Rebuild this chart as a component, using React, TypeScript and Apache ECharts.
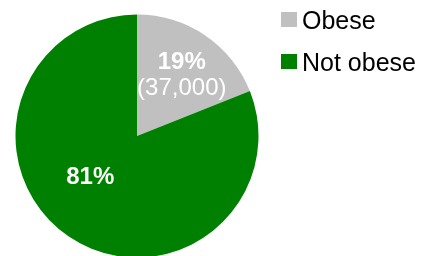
import React, { useEffect, useRef } from "react";
import * as echarts from "echarts";

const categories = ["Obese", "Not obese"];
const values = [37000, 158000];
const colors = ["#C0C0C0", "#008000"];
const labelOffsets = [
  [9, -10],
  [-11, -13],
];

export default function App() {
  const ref = useRef<HTMLDivElement>(null);
  useEffect(() => {
    if (!ref.current) return;
    const chart = echarts.init(ref.current, null, { renderer: "svg" });
    chart.setOption({
      animation: false,
      textStyle: { fontFamily: "Liberation Sans, Arial, sans-serif" },
      legend: {
        orient: "vertical",
        left: 276,
        top: 2,
        itemWidth: 16,
        itemHeight: 15,
        itemGap: 17,
        icon: "rect",
        textStyle: {
          fontSize: 25,
          color: "#000",
          fontFamily: "Liberation Sans, Arial, sans-serif",
          padding: [0, 0, 6, 0],
        },
        data: categories,
      },
      series: [
        {
          type: "pie",
          center: [137, 136],
          radius: [0, 121.5],
          startAngle: 90,
          clockwise: true,
          percentPrecision: 0,
          label: {
            show: true,
            position: "inside",
            color: "#fff",
            fontFamily: "Liberation Sans, Arial, sans-serif",
            formatter: (p: any) =>
              p.dataIndex === 0
                ? `{b|${p.percent}%}\n{n|(${p.value.toLocaleString("en-US")})}`
                : `{b|${p.percent}%}`,
            rich: {
              b: { fontSize: 24, fontWeight: "bold", color: "#fff", lineHeight: 26, fontFamily: "Liberation Sans, Arial, sans-serif" },
              n: { fontSize: 24, color: "#fff", lineHeight: 26, fontFamily: "Liberation Sans, Arial, sans-serif" },
            },
          },
          labelLayout: (params: any) => ({
            dx: labelOffsets[params.dataIndex][0],
            dy: labelOffsets[params.dataIndex][1],
          }),
          labelLine: { show: false },
          emphasis: { disabled: true },
          itemStyle: { borderWidth: 0 },
          data: categories.map((name, i) => ({
            name,
            value: values[i],
            itemStyle: { color: colors[i] },
          })),
        },
      ],
    });
    return () => chart.dispose();
  }, []);
  return (
    <div
      ref={ref}
      style={{ position: "fixed", left: 0, top: 0, width: 429, height: 256 }}
    />
  );
}
